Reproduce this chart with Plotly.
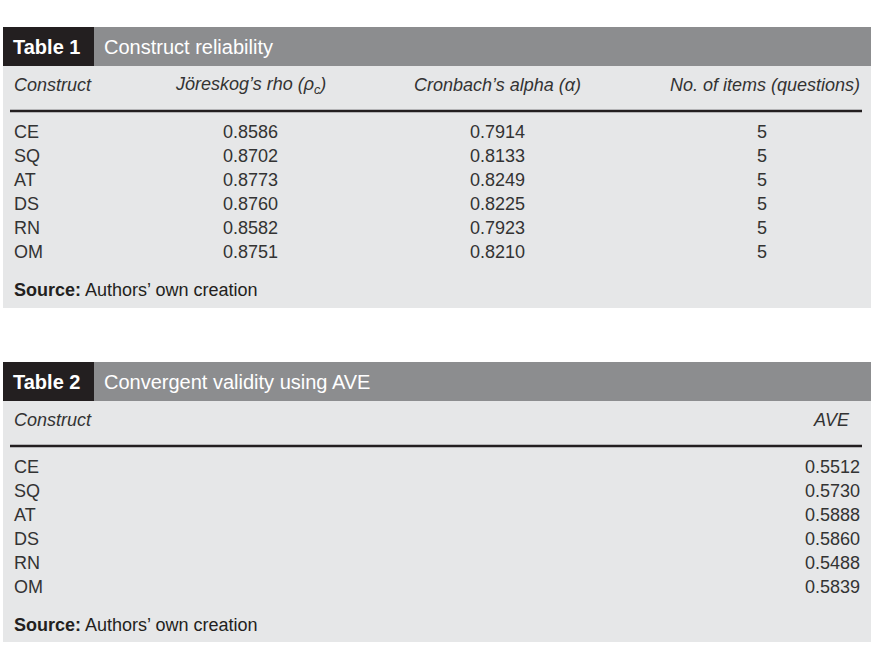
import plotly.graph_objects as go

constructs = ["CE", "SQ", "AT", "DS", "RN", "OM"]
rho = ["0.8586", "0.8702", "0.8773", "0.8760", "0.8582", "0.8751"]
alpha = ["0.7914", "0.8133", "0.8249", "0.8225", "0.7923", "0.8210"]
items = ["5", "5", "5", "5", "5", "5"]
ave = ["0.5512", "0.5730", "0.5888", "0.5860", "0.5488", "0.5839"]
t1_headers = ["Construct", "Jöreskog’s rho (<i>ρ<sub>c</sub></i>)", "Cronbach’s alpha (<i>α</i>)", "No. of items (questions)"]
t2_headers = ["Construct", "AVE"]

F = "Liberation Sans, Arial, sans-serif"
TXT = "#333333"
fig = go.Figure()
shapes, ann = [], []

def rect(x0, y0, x1, y1, c):
    shapes.append(dict(type="rect", x0=x0, x1=x1, y0=y0, y1=y1, fillcolor=c, line=dict(width=0), layer="below"))

def text(x, y, s, anchor="left", size=18, color=TXT, italic=False):
    if italic:
        s = "<i>" + s + "</i>"
    ann.append(dict(x=x, y=y, text=s, showarrow=False, xanchor=anchor, yanchor="middle",
                    font=dict(family=F, size=size, color=color)))

def table(top, num, title, headers, cols, hx, hanchors, cx, canchors, body_bottom):
    rect(3, top, 871, top + 39, "#8c8d8f")
    rect(3, top, 94, top + 39, "#231f20")
    rect(3, top + 39, 871, body_bottom, "#e6e7e8")
    text(11, top + 20, "<b>Table %d</b>" % num, size=20, color="white")
    text(102, top + 20, title, size=20, color="white")
    hy = top + 58
    for h, x, a in zip(headers, hx, hanchors):
        text(x, hy, h, a, italic=True)
    shapes.append(dict(type="line", x0=10, x1=862, y0=top + 84, y1=top + 84, line=dict(color="#231f20", width=2.5)))
    for i in range(len(constructs)):
        y = top + 105 + 24 * i
        for col, x, a in zip(cols, cx, canchors):
            text(x, y, col[i], a)
    text(12, top + 263, "<b>Source:</b> Authors’ own creation", size=18, color="#231f20")

table(27, 1, "Construct reliability", t1_headers, [constructs, rho, alpha, items],
      [12, 250, 497, 862], ["left", "center", "center", "right"],
      [12, 250, 497, 762], ["left", "center", "center", "center"], 308)
table(362, 2, "Convergent validity using AVE", t2_headers, [constructs, ave],
      [12, 852], ["left", "right"], [12, 862], ["left", "right"], 642)

fig.update_layout(width=876, height=660, margin=dict(l=0, r=0, t=0, b=0),
                  paper_bgcolor="white", plot_bgcolor="white", shapes=shapes, annotations=ann,
                  xaxis=dict(range=[0, 876], visible=False, fixedrange=True),
                  yaxis=dict(range=[660, 0], visible=False, fixedrange=True), showlegend=False)
fig.write_html("out.html", config={"displayModeBar": False},
               post_script="document.body.style.margin='0';document.body.style.overflow='hidden';")
